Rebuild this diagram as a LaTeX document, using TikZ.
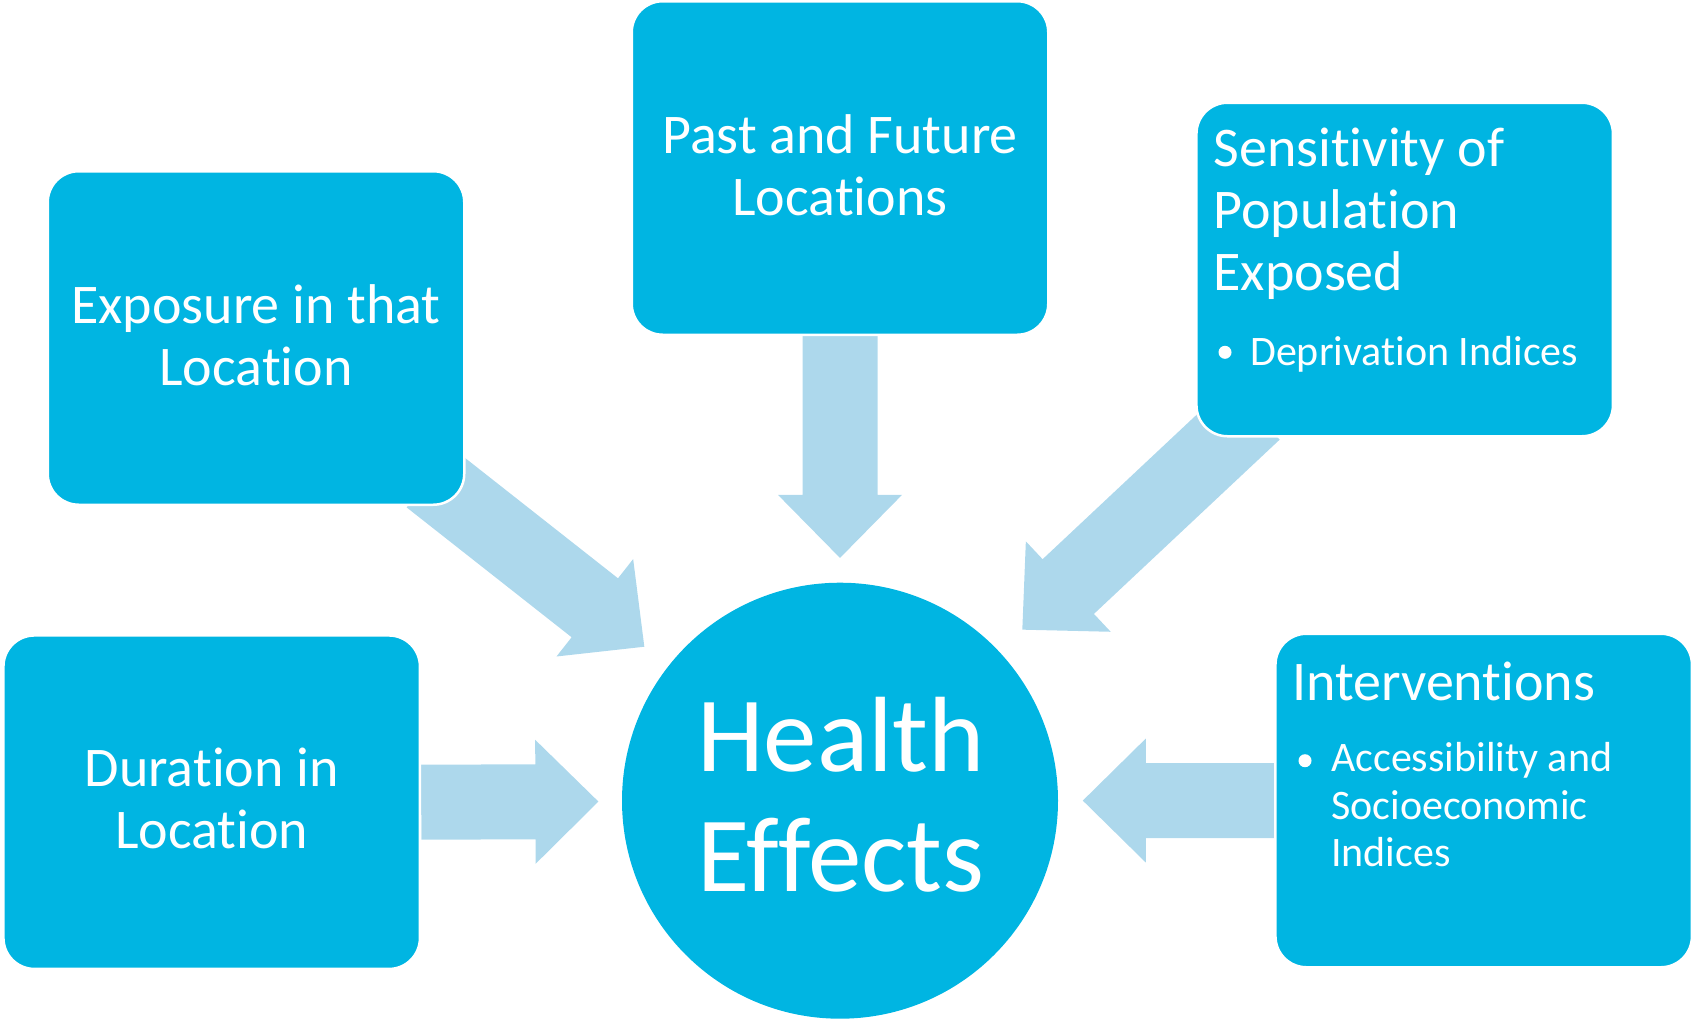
\documentclass[tikz,border=0pt]{standalone}
\usepackage{fontspec}
\setmainfont{Carlito}[Ligatures=NoCommon]
\usetikzlibrary{calc}
\definecolor{boxblue}{RGB}{0,181,226}
\definecolor{arrowblue}{RGB}{173,216,236}
\pgfdeclarelayer{background}
\pgfsetlayers{background,main}
% block arrow: #1 tail, #2 tip, #3 name for head-base coordinate
\newcommand\blockarrow[3]{%
  \coordinate (#3) at ($(#2)!63pt!(#1)$);
  \fill[arrowblue] ($(#1)!37.5pt!90:(#2)$) -- ($(#3)!37.5pt!90:(#2)$) -- ($(#3)!62pt!90:(#2)$) -- (#2)
    -- ($(#3)!62pt!-90:(#2)$) -- ($(#3)!37.5pt!-90:(#2)$) -- ($(#1)!37.5pt!-90:(#2)$) -- cycle;}
\tikzset{
  box/.style={rectangle, rounded corners=31pt, fill=boxblue, draw=white, line width=2.5pt,
    minimum width=416.5pt, minimum height=333.5pt, inner sep=0pt},
  hub/.style={circle, fill=boxblue, minimum size=436pt, inner sep=0pt},
  maintext/.style={text=white, font=\fontsize{56}{62}\selectfont, inner sep=0pt},
  subtext/.style={text=white, font=\fontsize{42}{47.5}\selectfont, inner sep=0pt, align=left, anchor=base west},
  hubtext/.style={text=white, font=\fontsize{107}{120}\selectfont, inner sep=0pt, align=center, anchor=base},
  bulletdot/.style={circle, fill=white, minimum size=13pt, inner sep=0pt}
}
\begin{document}
\begin{tikzpicture}[x=1pt,y=-1pt]
\useasboundingbox (0,0) rectangle (1692,1021);
% hub and boxes
\node[hub] (he) at (840,800.7) {};
\node[box] (exp) at (256,338) {};
\node[box] (past) at (840,168) {};
\node[box] (sens) at (1404.7,269.5) {};
\node[box] (dur) at (211.7,802.2) {};
\node[box] (intv) at (1483.7,800.5) {};
% texts (anchor base = baseline of the last line)
\node[maintext, align=center, anchor=base] (expt) at (256,385) {Exposure in that\\Location};
\node[maintext, align=center, anchor=base] (pastt) at (840,215.3) {Past and Future\\Locations};
\node[maintext, align=center, anchor=base] (durt) at (211.7,848.3) {Duration in\\Location};
\node[maintext, align=left, anchor=base west] (senst) at (1213.3,290) {Sensitivity of\\Population\\Exposed};
\node[bulletdot] (sensb) at (1225,352.3) {};
\node[subtext] (sensi) at (1250,365) {Deprivation Indices};
\node[maintext, align=left, anchor=base west] (intvt) at (1292,700) {Interventions};
\node[bulletdot] (intvb) at (1305,760.7) {};
\node[subtext] (intvi) at (1331,866.7) {Accessibility and\\Socioeconomic\\Indices};
\node[hubtext] (het) at (841,891.7) {Health\\Effects};
% connectors (block arrows) behind the boxes
\coordinate (expTail) at ($(he.center)!522pt!(exp.south east)$);
\coordinate (expTip) at ($(he.center)!249pt!(exp.south east)$);
\coordinate (pastTail) at (past.south);
\coordinate (pastTip) at ($(he.center)!242.8pt!(past.south)$);
\coordinate (sensTail) at ($(sens.south west)+(58.8,-25.2)$);
\coordinate (sensTip) at ($(he.center)!250pt!(sensTail)$);
\coordinate (durTail) at (dur.east);
\coordinate (durTip) at ($(he.center)!241.6pt!(dur.east)$);
\coordinate (intvTail) at (intv.west);
\coordinate (intvTip) at ($(he.center)!242.8pt!(intv.west)$);
\begin{pgfonlayer}{background}
\blockarrow{expTail}{expTip}{expBase}
\blockarrow{pastTail}{pastTip}{pastBase}
\blockarrow{sensTail}{sensTip}{sensBase}
\blockarrow{durTail}{durTip}{durBase}
\blockarrow{intvTail}{intvTip}{intvBase}
\end{pgfonlayer}
\end{tikzpicture}
\end{document}
